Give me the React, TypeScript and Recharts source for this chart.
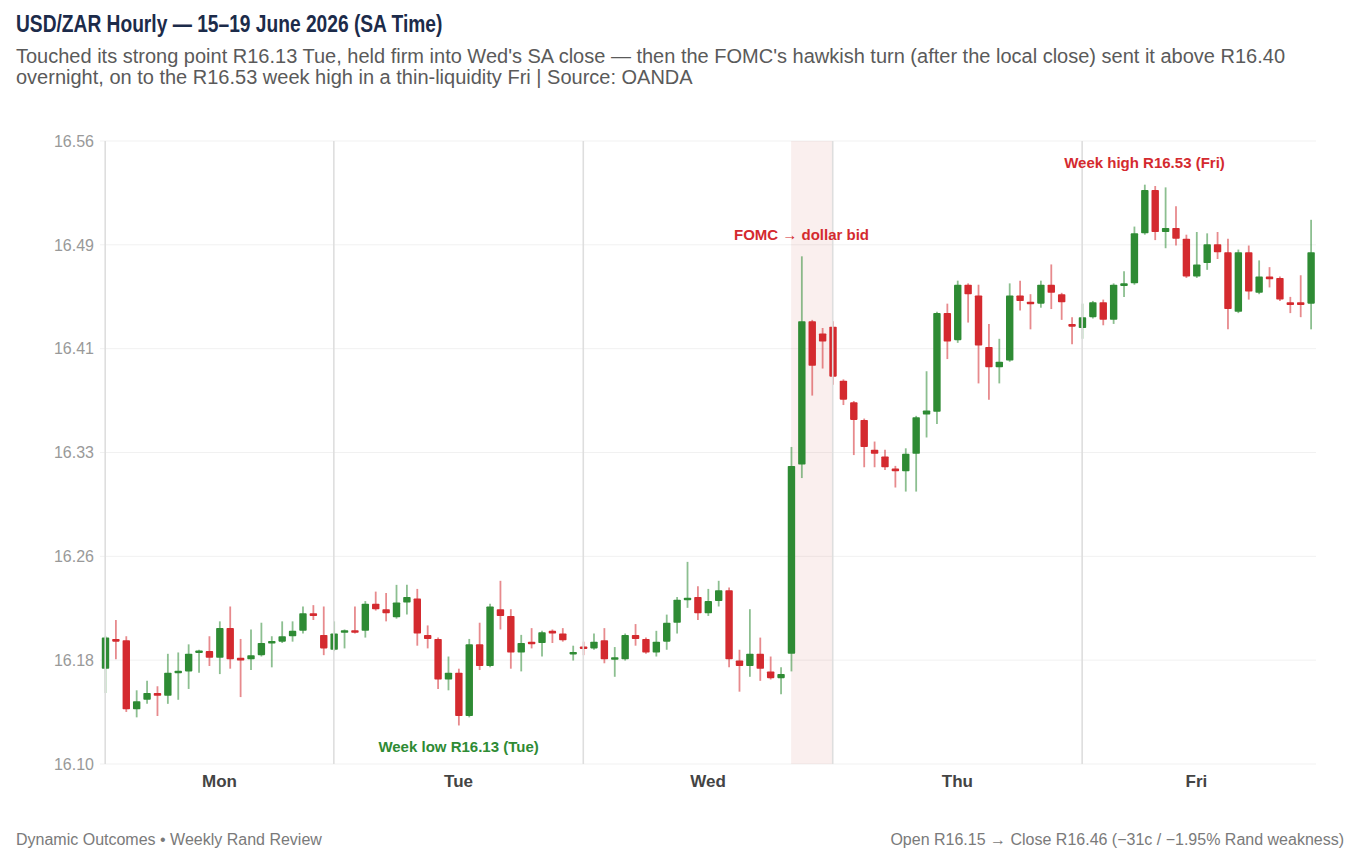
import React from 'react';
import {
  ComposedChart,
  Bar,
  XAxis,
  YAxis,
  CartesianGrid,
  ReferenceLine,
  ReferenceArea,
  ReferenceDot,
} from 'recharts';

// USD/ZAR hourly candles, Mon 02:00 to Fri 22:00 (SA time), one entry per hour
const opens = [
  16.172, 16.194, 16.193, 16.142, 16.149, 16.154, 16.152, 16.169, 16.170, 16.184,
  16.185, 16.180, 16.202, 16.180, 16.179, 16.182, 16.191, 16.192, 16.196, 16.200,
  16.213, 16.197, 16.186, 16.199, 16.200, 16.200, 16.220, 16.216, 16.210, 16.221,
  16.224, 16.197, 16.194, 16.164, 16.169, 16.137, 16.190, 16.174, 16.216, 16.211,
  16.184, 16.192, 16.191, 16.200, 16.198, 16.183, 16.188, 16.187, 16.193, 16.179,
  16.179, 16.197, 16.194, 16.184, 16.192, 16.206, 16.223, 16.225, 16.213, 16.222,
  16.230, 16.178, 16.174, 16.183, 16.170, 16.165, 16.183, 16.323, 16.429, 16.420,
  16.425, 16.385, 16.369, 16.356, 16.334, 16.329, 16.320, 16.318, 16.331, 16.360,
  16.362, 16.435, 16.415, 16.456, 16.448, 16.410, 16.395, 16.400, 16.448, 16.443,
  16.442, 16.456, 16.449, 16.427, 16.424, 16.432, 16.443, 16.430, 16.455, 16.457,
  16.494, 16.526, 16.495, 16.498, 16.490, 16.462, 16.472, 16.486, 16.480, 16.436,
  16.480, 16.450, 16.462, 16.461, 16.443, 16.443, 16.442,
];
const highs = [
  16.196, 16.208, 16.196, 16.156, 16.163, 16.159, 16.183, 16.184, 16.190, 16.186,
  16.196, 16.207, 16.218, 16.194, 16.201, 16.206, 16.196, 16.207, 16.207, 16.218,
  16.219, 16.218, 16.207, 16.201, 16.218, 16.222, 16.229, 16.228, 16.234, 16.234,
  16.231, 16.204, 16.195, 16.181, 16.172, 16.194, 16.206, 16.220, 16.237, 16.216,
  16.197, 16.202, 16.200, 16.201, 16.202, 16.189, 16.192, 16.198, 16.202, 16.188,
  16.198, 16.205, 16.195, 16.200, 16.212, 16.225, 16.251, 16.233, 16.231, 16.237,
  16.232, 16.186, 16.216, 16.195, 16.181, 16.173, 16.336, 16.477, 16.430, 16.424,
  16.429, 16.386, 16.370, 16.357, 16.340, 16.334, 16.322, 16.335, 16.359, 16.392,
  16.436, 16.442, 16.459, 16.457, 16.456, 16.427, 16.416, 16.457, 16.459, 16.449,
  16.459, 16.471, 16.450, 16.432, 16.442, 16.444, 16.445, 16.457, 16.466, 16.499,
  16.530, 16.529, 16.528, 16.514, 16.493, 16.495, 16.494, 16.495, 16.490, 16.482,
  16.485, 16.474, 16.469, 16.462, 16.447, 16.463, 16.504,
];
const lows = [
  16.154, 16.179, 16.140, 16.136, 16.146, 16.137, 16.146, 16.149, 16.157, 16.169,
  16.174, 16.168, 16.172, 16.151, 16.171, 16.181, 16.173, 16.191, 16.192, 16.198,
  16.208, 16.182, 16.185, 16.187, 16.198, 16.195, 16.215, 16.207, 16.209, 16.212,
  16.189, 16.187, 16.157, 16.156, 16.130, 16.136, 16.171, 16.173, 16.201, 16.172,
  16.170, 16.187, 16.181, 16.191, 16.192, 16.178, 16.182, 16.186, 16.176, 16.166,
  16.178, 16.189, 16.183, 16.181, 16.186, 16.198, 16.217, 16.208, 16.211, 16.218,
  16.173, 16.155, 16.166, 16.163, 16.164, 16.153, 16.170, 16.313, 16.374, 16.394,
  16.382, 16.367, 16.330, 16.321, 16.321, 16.319, 16.306, 16.303, 16.303, 16.343,
  16.353, 16.401, 16.413, 16.428, 16.383, 16.371, 16.383, 16.399, 16.437, 16.423,
  16.439, 16.438, 16.430, 16.412, 16.416, 16.431, 16.426, 16.427, 16.447, 16.456,
  16.493, 16.489, 16.483, 16.485, 16.461, 16.461, 16.467, 16.475, 16.423, 16.435,
  16.445, 16.449, 16.454, 16.444, 16.435, 16.432, 16.423,
];
const closes = [
  16.195, 16.192, 16.142, 16.148, 16.154, 16.152, 16.169, 16.170, 16.183, 16.185,
  16.180, 16.202, 16.179, 16.178, 16.182, 16.191, 16.192, 16.196, 16.200, 16.213,
  16.211, 16.187, 16.198, 16.200, 16.199, 16.220, 16.216, 16.213, 16.221, 16.225,
  16.198, 16.194, 16.164, 16.169, 16.137, 16.190, 16.174, 16.218, 16.211, 16.184,
  16.191, 16.190, 16.199, 16.198, 16.193, 16.184, 16.187, 16.192, 16.179, 16.180,
  16.197, 16.194, 16.184, 16.192, 16.206, 16.223, 16.224, 16.213, 16.222, 16.230,
  16.179, 16.174, 16.183, 16.172, 16.165, 16.168, 16.322, 16.429, 16.396, 16.414,
  16.388, 16.371, 16.356, 16.336, 16.331, 16.321, 16.318, 16.331, 16.358, 16.363,
  16.435, 16.414, 16.456, 16.449, 16.411, 16.395, 16.399, 16.448, 16.444, 16.442,
  16.456, 16.450, 16.443, 16.425, 16.432, 16.443, 16.430, 16.456, 16.457, 16.494,
  16.526, 16.495, 16.498, 16.490, 16.462, 16.471, 16.486, 16.480, 16.438, 16.480,
  16.451, 16.462, 16.460, 16.445, 16.441, 16.441, 16.480,
];

// Session layout, in hourly-candle indices
const dayNames = ['Mon', 'Tue', 'Wed', 'Thu', 'Fri'];
const dayStarts = [0, 22, 46, 70, 94];
const dayCentres = [11, 34, 58, 82, 105];
const fomcWindow = [66, 70];
const fomcCandle = 67;

// Price axis
const yDomain = [16.1015, 16.5623];
const yTickLabels = ['16.10', '16.18', '16.26', '16.33', '16.41', '16.49', '16.56'];

const GREEN = '#2e8b34';
const RED = '#d42a2f';
const FONT = '"Liberation Sans", Arial, Helvetica, sans-serif';

const candles = opens.map((open, i) => ({
  i,
  open,
  high: highs[i],
  low: lows[i],
  close: closes[i],
}));

const yTicks = yTickLabels.map(
  (_, k) => yDomain[0] + (k * (yDomain[1] - yDomain[0])) / (yTickLabels.length - 1)
);

const highIdx = highs.indexOf(Math.max(...highs));
const lowIdx = lows.indexOf(Math.min(...lows));
const LABEL_GAP = 0.016;

// Draws one candle inside the low-high range rectangle that Bar hands over
const Candle = (props: any) => {
  const { x, y, width, height, payload } = props;
  if (!payload || width == null) return null;
  const { open, close, high, low } = payload;
  const top = Math.min(y, y + height);
  const bottom = Math.max(y, y + height);
  const span = high - low;
  const toY = (v: number) => (span === 0 ? top : top + ((high - v) / span) * (bottom - top));
  const up = close >= open;
  const color = up ? GREEN : RED;
  const cx = x + width / 2;
  let bTop = toY(Math.max(open, close));
  let bBot = toY(Math.min(open, close));
  if (bBot - bTop < 2.5) {
    const mid = (bTop + bBot) / 2;
    bTop = mid - 1.25;
    bBot = mid + 1.25;
  }
  const bw = 7.4;
  return (
    <g>
      <line x1={cx} x2={cx} y1={top} y2={bottom} stroke={color} strokeOpacity={0.55} strokeWidth={1.8} />
      <rect x={cx - bw / 2} y={bTop} width={bw} height={bBot - bTop} fill={color} rx={0.8} />
    </g>
  );
};

const annotation = (value: string, fill: string) => ({
  value,
  position: 'center' as const,
  fill,
  fontSize: 15,
  fontWeight: 700,
  fontFamily: FONT,
});

export default function App() {
  return (
    <div
      style={{
        position: 'absolute',
        left: 0,
        top: 0,
        width: 1360,
        height: 862,
        background: '#ffffff',
        fontFamily: FONT,
        overflow: 'hidden',
      }}
    >
      <div style={{ position: 'absolute', left: 0, top: 0 }}>
        <ComposedChart
          width={1360}
          height={862}
          data={candles}
          margin={{ top: 141, right: 44, bottom: 68, left: 0 }}
        >
          <CartesianGrid vertical={false} stroke="#f1f1f1" strokeWidth={1} />
          <ReferenceArea
            x1={fomcWindow[0]}
            x2={fomcWindow[1]}
            y1={yDomain[0]}
            y2={yDomain[1]}
            fill="#c0392b"
            fillOpacity={0.08}
            stroke="none"
            ifOverflow="visible"
          />
          {dayStarts.map((d) => (
            <ReferenceLine key={d} x={d} stroke="#dedede" strokeWidth={1.6} />
          ))}
          <XAxis
            type="number"
            dataKey="i"
            domain={[-0.5, opens.length - 0.5]}
            allowDataOverflow
            ticks={dayCentres}
            tickFormatter={(v: number) => dayNames[dayCentres.indexOf(v)] ?? ''}
            axisLine={false}
            tickLine={false}
            tickSize={0}
            tickMargin={11}
            height={30}
            interval={0}
            tick={{ fill: '#444444', fontSize: 17, fontWeight: 700 }}
          />
          <YAxis
            type="number"
            domain={yDomain}
            allowDataOverflow
            ticks={yTicks}
            tickFormatter={(_: number, idx: number) => yTickLabels[idx]}
            axisLine={false}
            tickLine={false}
            tickSize={0}
            tickMargin={6}
            width={100}
            interval={0}
            tick={{ fill: '#999999', fontSize: 16 }}
          />
          <Bar
            dataKey={(d: any) => [d.low, d.high]}
            barSize={7}
            isAnimationActive={false}
            shape={(p: any) => <Candle {...p} />}
          />
          <ReferenceDot
            x={fomcCandle}
            y={highs[fomcCandle] + LABEL_GAP}
            r={0}
            stroke="none"
            fill="none"
            label={annotation('FOMC → dollar bid', RED)}
          />
          <ReferenceDot
            x={highIdx}
            y={highs[highIdx] + LABEL_GAP}
            r={0}
            stroke="none"
            fill="none"
            label={annotation(`Week high R${highs[highIdx].toFixed(2)} (Fri)`, RED)}
          />
          <ReferenceDot
            x={lowIdx}
            y={lows[lowIdx] - LABEL_GAP}
            r={0}
            stroke="none"
            fill="none"
            label={annotation(`Week low R${lows[lowIdx].toFixed(2)} (Tue)`, GREEN)}
          />
        </ComposedChart>
      </div>

      <div
        style={{
          position: 'absolute',
          left: 16,
          top: 10,
          fontSize: 23.4,
          lineHeight: '28px',
          fontWeight: 700,
          color: '#1c2b4a',
          whiteSpace: 'nowrap',
          transform: 'scaleX(0.82)',
          transformOrigin: 'left center',
        }}
      >
        USD/ZAR Hourly — 15–19 June 2026 (SA Time)
      </div>
      <div
        style={{
          position: 'absolute',
          left: 16,
          top: 46,
          fontSize: 20,
          lineHeight: '21px',
          color: '#5a5a5a',
          whiteSpace: 'nowrap',
        }}
      >
        Touched its strong point R16.13 Tue, held firm into Wed's SA close — then the FOMC's hawkish turn
        (after the local close) sent it above R16.40
        <br />
        overnight, on to the R16.53 week high in a thin-liquidity Fri | Source: OANDA
      </div>
      <div
        style={{
          position: 'absolute',
          left: 16,
          top: 830,
          fontSize: 16,
          lineHeight: '20px',
          color: '#7a7a7a',
          whiteSpace: 'nowrap',
        }}
      >
        Dynamic Outcomes • Weekly Rand Review
      </div>
      <div
        style={{
          position: 'absolute',
          right: 16,
          top: 830,
          fontSize: 16,
          lineHeight: '20px',
          color: '#7a7a7a',
          whiteSpace: 'nowrap',
        }}
      >
        Open R16.15 → Close R16.46 (−31c / −1.95% Rand weakness)
      </div>
    </div>
  );
}
